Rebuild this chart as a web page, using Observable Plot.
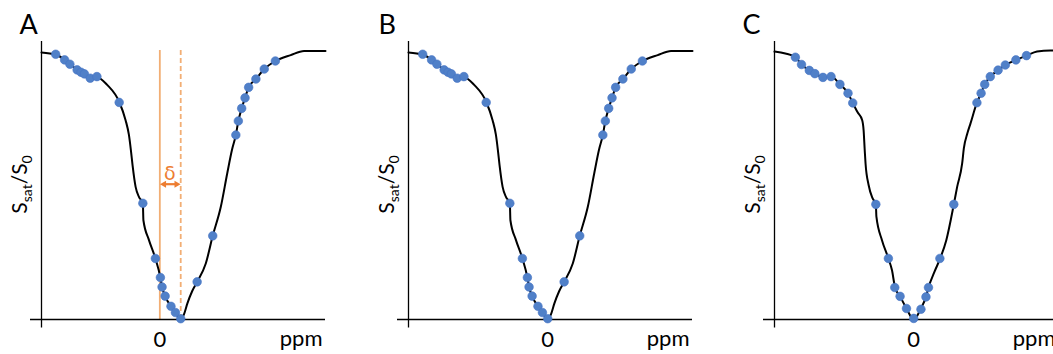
<!DOCTYPE html>
<html><head><meta charset="utf-8">
<script src="https://cdn.jsdelivr.net/npm/d3@7"></script>
<script src="https://cdn.jsdelivr.net/npm/@observablehq/plot@0.6"></script>
<style>
html,body{margin:0;padding:0;background:#fff;overflow:hidden}
#wrap{position:relative;width:1053px;height:354px;overflow:hidden}
#wrap svg{position:absolute;top:0}
</style></head><body><div id="wrap"></div>
<script>
// ---- data ----
const panelLetters = ["A", "B", "C"];
const xTicks = [0];
const xUnit = "ppm";
const yLabelMain = "S", yLabelSub1 = "sat", yLabelSlash = "/", yLabelMain2 = "S", yLabelSub2 = "0";
const deltaLabel = "δ";
const deltaShift = 0.75;           // offset of the spectrum minimum in panel A (ppm)

// Panel B (and A, shifted by δ): smooth curve
const curveX_B = [-5.0,-4.49,-4.16,-3.73,-3.40,-3.22,-3.01,-2.64,-2.20,-1.98,-1.86,-1.79,-1.73,-1.62,-1.50,-1.36,-1.34,-1.14,-0.91,-0.73,-0.67,-0.56,-0.35,-0.19,0,0.12,0.24,0.41,0.59,0.90,1.15,1.44,1.67,1.84,1.98,2.07,2.19,2.31,2.44,2.70,3.00,3.40,3.95,4.43,5.2];
const curveY_B = [0.993,0.985,0.965,0.929,0.907,0.900,0.901,0.872,0.807,0.741,0.686,0.630,0.574,0.493,0.456,0.432,0.369,0.295,0.227,0.156,0.121,0.087,0.049,0.026,0,0.020,0.060,0.105,0.140,0.208,0.311,0.419,0.543,0.630,0.686,0.738,0.785,0.824,0.863,0.894,0.931,0.961,0.983,0.998,0.998];
// Panel B sample points
const dotX_B = [-4.49,-4.17,-3.98,-3.72,-3.58,-3.46,-3.25,-3.01,-2.21,-1.36,-0.91,-0.73,-0.67,-0.56,-0.35,-0.19,0,0.59,1.15,1.98,2.07,2.19,2.31,2.44,2.70,3.00,3.40];
const dotY_B = [0.986,0.965,0.949,0.928,0.919,0.913,0.897,0.903,0.807,0.432,0.227,0.156,0.121,0.087,0.049,0.026,0.003,0.140,0.311,0.686,0.738,0.785,0.824,0.863,0.894,0.931,0.961];

// Panel C: smooth curve
const curveX_C = [-5.0,-4.61,-4.25,-4.03,-3.75,-3.53,-3.26,-2.97,-2.65,-2.36,-2.19,-2.02,-1.85,-1.80,-1.76,-1.73,-1.62,-1.48,-1.36,-1.34,-1.14,-0.91,-0.78,-0.67,-0.49,-0.26,0,0.25,0.44,0.53,0.74,0.95,1.17,1.44,1.56,1.74,1.80,1.93,2.04,2.27,2.42,2.55,2.75,3.03,3.29,3.67,4.05,4.43,4.91,5.2];
const curveY_C = [0.996,0.989,0.975,0.948,0.926,0.914,0.900,0.903,0.874,0.841,0.805,0.771,0.741,0.704,0.630,0.580,0.500,0.451,0.428,0.382,0.295,0.227,0.183,0.119,0.086,0.041,0,0.039,0.084,0.119,0.176,0.227,0.295,0.428,0.493,0.580,0.636,0.693,0.729,0.806,0.841,0.874,0.903,0.927,0.946,0.965,0.981,0.996,1.0,1.0];
// Panel C sample points
const dotX_C = [-4.25,-4.03,-3.75,-3.55,-3.26,-2.97,-2.65,-2.36,-2.19,-1.36,-0.91,-0.68,-0.49,-0.26,0,0.26,0.44,0.53,0.94,1.44,2.27,2.42,2.55,2.75,3.03,3.29,3.67,4.05];
const dotY_C = [0.975,0.948,0.926,0.914,0.900,0.903,0.874,0.841,0.805,0.428,0.227,0.119,0.086,0.041,0.004,0.038,0.084,0.119,0.227,0.428,0.806,0.841,0.874,0.903,0.927,0.946,0.965,0.981];

// ---- build ----
const zip = (xs, ys, dx = 0) => xs.map((x, i) => ({x: x + dx, y: ys[i]}));
const W = 367, H = 354, ML = 41, MR = 42, MT = 50, MB = 35;
const font = "Lato, 'Open Sans', sans-serif";

function panel({letter, domain, curve, dots, left, letterDx, extra = []}) {
  const [x0, x1] = domain;
  const svg = Plot.plot({
    width: W, height: H, marginLeft: ML, marginRight: MR, marginTop: MT, marginBottom: MB,
    x: {domain, axis: null},
    y: {domain: [0, 1], axis: null},
    style: {fontFamily: font, fontSize: "22px", color: "#000", background: "transparent", overflow: "visible"},
    marks: [
      ...extra,
      Plot.ruleY([0], {x1: x0 - 0.395, x2: x1, stroke: "#000", strokeWidth: 1.3}),
      Plot.ruleX([x0], {y1: -0.032, y2: 1.033, stroke: "#000", strokeWidth: 1.3}),
      Plot.axisX({ticks: xTicks, tickSize: 0, tickPadding: 11.5, tickFormat: d => String(d), label: null, fontSize: 22}),
      Plot.text([xUnit], {text: d => d, frameAnchor: "bottom-right", textAnchor: "end", lineAnchor: "bottom", dx: -3, dy: 26, fontSize: 22}),
      Plot.line(curve, {x: "x", y: "y", curve: "monotone-x", stroke: "#000", strokeWidth: 2}),
      Plot.dot(dots, {x: "x", y: "y", r: 4.3, fill: "#5080c8", stroke: "#4472c4", strokeWidth: 0.6}),
      Plot.text([letter], {text: d => d, frameAnchor: "top-left", textAnchor: "start", lineAnchor: "bottom", dx: letterDx, dy: -17, fontSize: 27})
    ]
  });
  // y label with subscripts
  const t = d3.select(svg).append("text")
    .attr("transform", `translate(${ML - 14},${(MT + H - MB) / 2}) rotate(-90)`)
    .attr("text-anchor", "middle").attr("fill", "#000")
    .style("font-family", font).style("font-size", "21px");
  t.append("tspan").text(yLabelMain);
  t.append("tspan").attr("dy", 5).style("font-size", "14px").text(yLabelSub1);
  t.append("tspan").attr("dy", -5).text(yLabelSlash);
  t.append("tspan").text(yLabelMain2);
  t.append("tspan").attr("dy", 5).style("font-size", "14px").text(yLabelSub2);
  svg.style.left = left + "px";
  document.getElementById("wrap").appendChild(svg);
}

const arrowY = 0.503;
const orangeLight = "#F2AE74", orange = "#ED7D31";
const extraA = [
  Plot.ruleX([0], {y1: 0, y2: 1, stroke: orangeLight, strokeWidth: 1.8}),
  Plot.ruleX([deltaShift], {y1: 0, y2: 1, stroke: orangeLight, strokeWidth: 1.8, strokeDasharray: "5,3"}),
  Plot.ruleY([arrowY], {x1: 0.15, x2: deltaShift - 0.15, stroke: orange, strokeWidth: 2.2}),
  Plot.dot([{x: 0.15, rot: -90}, {x: deltaShift - 0.15, rot: 90}], {x: "x", y: arrowY, symbol: "triangle", rotate: "rot", r: 2.6, fill: orange, stroke: "none"}),
  Plot.text([deltaLabel], {text: d => d, x: deltaShift / 2 - 0.02, y: arrowY, dy: -4, lineAnchor: "bottom", fill: orange, fontSize: 19, fontFamily: "'DejaVu Sans', sans-serif"})
];

panel({letter: panelLetters[0], domain: [-4.25, 5.95], curve: zip(curveX_B, curveY_B, deltaShift), dots: zip(dotX_B, dotY_B, deltaShift), left: 0, letterDx: -22, extra: extraA});
panel({letter: panelLetters[1], domain: [-5, 5.2], curve: zip(curveX_B, curveY_B), dots: zip(dotX_B, dotY_B), left: 367, letterDx: -30});
panel({letter: panelLetters[2], domain: [-5, 5.2], curve: zip(curveX_C, curveY_C), dots: zip(dotX_C, dotY_C), left: 733, letterDx: -32});
</script>
</body></html>
